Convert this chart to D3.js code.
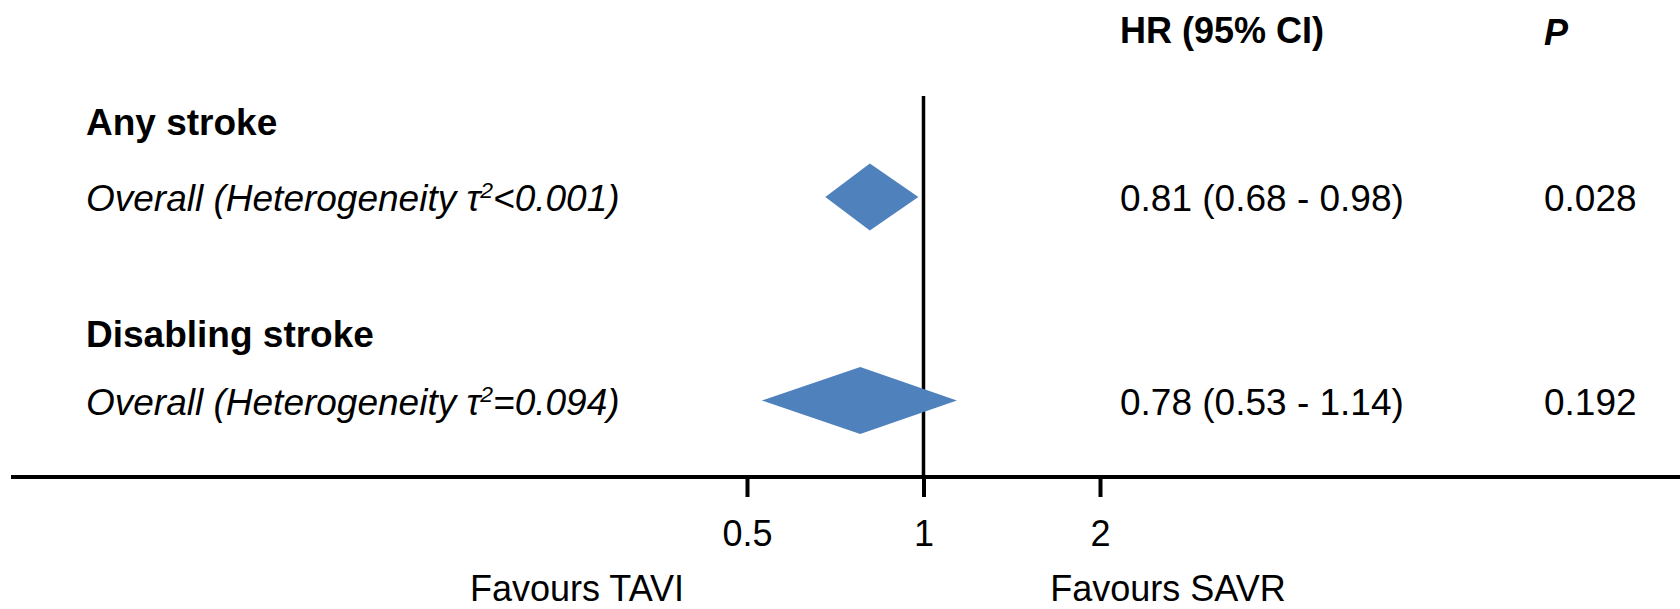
<!DOCTYPE html>
<html>
<head>
<meta charset="utf-8">
<script src="https://cdn.jsdelivr.net/npm/d3@7"></script>
<style>
  html, body { margin: 0; padding: 0; background: #fff; }
  svg { display: block; }
  text { font-family: "Liberation Sans", Arial, sans-serif; fill: #000; }
</style>
</head>
<body>
<svg id="chart" width="1680" height="609"></svg>
<script>
// ---- data ----
const groups = ["Any stroke", "Disabling stroke"];
const tau2Labels = ["<0.001", "=0.094"];
const hr = [0.81, 0.78];
const lower = [0.68, 0.53];
const upper = [0.98, 1.14];
const pValues = ["0.028", "0.192"];
const tickValues = [0.5, 1, 2];
const tickLabels = ["0.5", "1", "2"];
const favourLabels = ["Favours TAVI", "Favours SAVR"];
const headers = ["HR (95% CI)", "P"];

const fmt = d3.format(".2f");
const W = 1680, H = 609;
const FS = 37;
const FS2 = 36;
const svg = d3.select("#chart");

const x = d3.scaleLog().domain([0.5, 2]).range([747, 1100]);
const yGroup = d3.scaleLinear().domain([0, 1]).range([197, 400.5]);
const yHeading = d3.scaleLinear().domain([0, 1]).range([135, 347]);
const axisY = 477;
const diamondHalfH = 33.5;

// headers
svg.append("text").attr("x", 1120).attr("y", 43)
  .attr("font-size", FS2).attr("font-weight", "bold").text(headers[0]);
svg.append("text").attr("x", 1544).attr("y", 45)
  .attr("font-size", FS2).attr("font-weight", "bold").attr("font-style", "italic").text(headers[1]);

// reference line at 1
svg.append("line")
  .attr("x1", x(1)).attr("x2", x(1))
  .attr("y1", 96).attr("y2", axisY)
  .attr("stroke", "#000").attr("stroke-width", 3.5);

// rows
groups.forEach((g, i) => {
  const cy = yGroup(i);
  svg.append("text").attr("x", 86).attr("y", yHeading(i))
    .attr("font-size", FS).attr("font-weight", "bold").text(g);

  const t = svg.append("text").attr("x", 86).attr("y", cy + 14)
    .attr("font-size", FS).attr("font-style", "italic");
  t.append("tspan").text("Overall (Heterogeneity τ");
  t.append("tspan").attr("font-size", FS * 0.62).attr("dy", -13).text("2");
  t.append("tspan").attr("dy", 13).text(tau2Labels[i] + ")");

  svg.append("text").attr("x", 1120).attr("y", cy + 14)
    .attr("font-size", FS)
    .text(`${fmt(hr[i])} (${fmt(lower[i])} - ${fmt(upper[i])})`);

  svg.append("text").attr("x", 1544).attr("y", cy + 14)
    .attr("font-size", FS).text(pValues[i]);
});

// diamonds
svg.append("g").selectAll("path")
  .data(groups.map((g, i) => ({ est: hr[i], lo: lower[i], hi: upper[i], cy: yGroup(i) })))
  .join("path")
  .attr("d", d => `M${x(d.lo)},${d.cy} L${x(d.est)},${d.cy - diamondHalfH} L${x(d.hi)},${d.cy} L${x(d.est)},${d.cy + diamondHalfH} Z`)
  .attr("fill", "#4F81BD");

// axis line
svg.append("line")
  .attr("x1", 11).attr("x2", W)
  .attr("y1", axisY).attr("y2", axisY)
  .attr("stroke", "#000").attr("stroke-width", 4);

// ticks
const axis = d3.axisBottom(x)
  .tickValues(tickValues)
  .tickFormat((d, i) => tickLabels[i])
  .tickSize(20)
  .tickPadding(23);
const ax = svg.append("g").attr("transform", `translate(0,${axisY})`).call(axis);
ax.select(".domain").remove();
ax.selectAll(".tick line").attr("stroke", "#000").attr("stroke-width", 4);
ax.selectAll(".tick text")
  .attr("font-size", FS2)
  .attr("font-family", "Liberation Sans, Arial, sans-serif")
  .attr("fill", "#000");

// favours labels
svg.append("text").attr("x", 577).attr("y", 601)
  .attr("font-size", FS2).attr("text-anchor", "middle").text(favourLabels[0]);
svg.append("text").attr("x", 1168).attr("y", 601)
  .attr("font-size", FS2).attr("text-anchor", "middle").text(favourLabels[1]);
</script>
</body>
</html>
